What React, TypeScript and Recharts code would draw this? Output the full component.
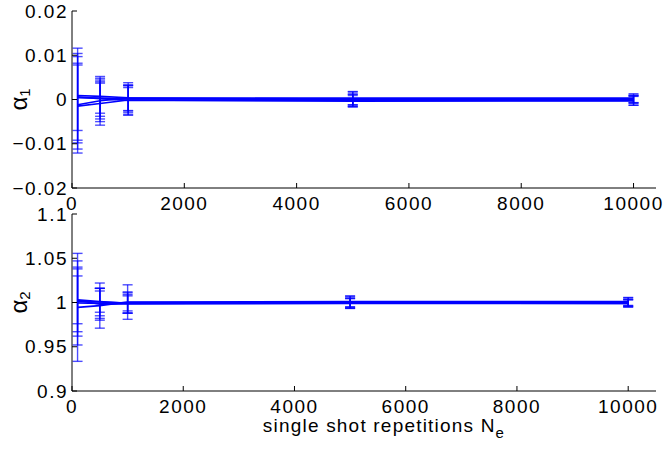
import { LineChart, Line, XAxis, YAxis, ErrorBar } from "recharts";

const repetitions = [100, 500, 1000, 5000, 10000];
const xTicks = [0, 2000, 4000, 6000, 8000, 10000];
const alpha1Ticks = [-0.02, -0.01, 0, 0.01, 0.02];
const alpha2Ticks = [0.9, 0.95, 1, 1.05, 1.1];

// five repeated runs: estimated means and error bar half widths per N_e
const alpha1Means = [
  [0.0009, 0.0007, 0.0004, 0.0003, 0.0003],
  [0.0006, 0.0002, -0.0002, -0.0002, -0.0002],
  [-0.0012, -0.0003, 0.0003, 0.0001, 0.0001],
  [-0.0015, -0.0009, -0.0001, -0.0004, -0.0003],
  [0.0004, 0.0003, 0.0001, 0.0, 0.0],
];
const alpha1Errors = [
  [0.0107, 0.0045, 0.0034, 0.0015, 0.001],
  [0.0098, 0.0046, 0.0033, 0.0014, 0.0011],
  [0.0109, 0.0047, 0.0029, 0.0016, 0.0009],
  [0.0097, 0.0049, 0.0034, 0.0013, 0.001],
  [0.0074, 0.0034, 0.0026, 0.0012, 0.0008],
];
const alpha2Means = [
  [0.9945, 0.9965, 1.0005, 1.0012, 1.0012],
  [0.9995, 0.999, 1.0, 0.9992, 0.999],
  [1.001, 1.0005, 0.9995, 1.0005, 1.0005],
  [1.0025, 0.998, 0.9985, 0.9988, 0.999],
  [1.003, 1.001, 0.999, 1.0, 1.0],
];
const alpha2Errors = [
  [0.061, 0.0255, 0.0195, 0.0062, 0.0045],
  [0.0475, 0.017, 0.012, 0.0058, 0.0042],
  [0.039, 0.0155, 0.0115, 0.0066, 0.0048],
  [0.0355, 0.018, 0.0105, 0.0055, 0.004],
  [0.027, 0.012, 0.0085, 0.005, 0.0038],
];

const FONT = '"Liberation Sans", Arial, Helvetica, sans-serif';
const BLUE = "#0000ff";
const W = 663;
const H = 449;

function buildRows(means: number[][], errors: number[][]) {
  return repetitions.map((n, i) => {
    const row: any = { n };
    means.forEach((m, s) => {
      row["m" + s] = m[i];
      row["e" + s] = errors[s][i];
    });
    return row;
  });
}

const fmtNum = (v: number) => {
  if (v === 0) return "0";
  const s = String(Math.abs(v));
  return v < 0 ? "\u2212" + s : s;
};

const XTick = (props: any) => {
  const { x, y, payload } = props;
  return (
    <text x={x} y={y} dy="0.71em" textAnchor="middle" fill="#000" fontSize={19} fontFamily={FONT} letterSpacing={1.5}>
      {String(payload.value)}
    </text>
  );
};

const YTick = (props: any) => {
  const { x, y, payload } = props;
  return (
    <text x={x} y={y} dy="0.355em" textAnchor="end" fill="#000" fontSize={19} fontFamily={FONT} letterSpacing={1.5}>
      {fmtNum(payload.value)}
    </text>
  );
};

interface PanelProps {
  rows: any[];
  plotTop: number;
  plotBottom: number;
  xDomain: number[];
  yDomain: number[];
  yTicks: number[];
  sub: string;
  xLabel?: boolean;
}

function Panel({ rows, plotTop, plotBottom, xDomain, yDomain, yTicks, sub, xLabel }: PanelProps) {
  const cy = (plotTop + plotBottom) / 2;
  return (
    <div style={{ position: "absolute", left: 0, top: 0 }}>
      <LineChart
        width={W}
        height={H}
        data={rows}
        margin={{ top: plotTop, right: 7, bottom: H - plotBottom - 30, left: 0 }}
      >
        <XAxis
          xAxisId="b"
          dataKey="n"
          type="number"
          domain={xDomain}
          ticks={xTicks}
          allowDataOverflow
          height={30}
          stroke="#000"
          tickSize={-5}
          tickMargin={14}
          tick={<XTick />}
          label={
            xLabel
              ? {
                  content: () => (
                    <text x={384} y={432} textAnchor="middle" fill="#000" fontSize={19} fontFamily={FONT} letterSpacing={1.2}>
                      single shot repetitions N
                      <tspan fontSize={15} dy={6}>e</tspan>
                    </text>
                  ),
                }
              : undefined
          }
        />
        <XAxis
          xAxisId="t"
          orientation="top"
          dataKey="n"
          type="number"
          domain={xDomain}
          ticks={xTicks}
          allowDataOverflow
          height={0}
          stroke="#000"
          tickSize={-5}
          tick={false}
        />
        <YAxis
          yAxisId="l"
          type="number"
          domain={yDomain}
          ticks={yTicks}
          allowDataOverflow
          width={72}
          stroke="#000"
          tickSize={-5}
          tickMargin={9}
          tick={<YTick />}
          label={{
            content: () => (
              <text
                x={27}
                y={cy}
                transform={`rotate(-90, 27, ${cy})`}
                textAnchor="middle"
                fill="#000"
                fontSize={24}
                fontFamily={FONT}
              >
                α<tspan fontSize={15} dy={3}>{sub}</tspan>
              </text>
            ),
          }}
        />
        <YAxis
          yAxisId="r"
          orientation="right"
          type="number"
          domain={yDomain}
          ticks={yTicks}
          allowDataOverflow
          width={0}
          stroke="#000"
          tickSize={-5}
          tick={false}
        />
        {[0, 1, 2, 3, 4].map((s) => (
          <Line
            key={s}
            xAxisId="b"
            yAxisId="l"
            dataKey={"m" + s}
            stroke={BLUE}
            strokeWidth={1.6}
            dot={false}
            isAnimationActive={false}
          >
            <ErrorBar
              dataKey={"e" + s}
              width={5}
              stroke={BLUE}
              strokeWidth={1.4}
              strokeOpacity={0.7}
              direction="y"
              isAnimationActive={false}
            />
          </Line>
        ))}
      </LineChart>
    </div>
  );
}

export default function App() {
  const rows1 = buildRows(alpha1Means, alpha1Errors);
  const rows2 = buildRows(alpha2Means, alpha2Errors);
  return (
    <div style={{ position: "absolute", left: 0, top: 0, width: W, height: H, background: "#fff" }}>
      <Panel
        rows={rows2}
        plotTop={214}
        plotBottom={391}
        xDomain={[0, 10500]}
        yDomain={[0.9, 1.1]}
        yTicks={alpha2Ticks}
        sub="2"
        xLabel
      />
      <Panel
        rows={rows1}
        plotTop={11}
        plotBottom={188}
        xDomain={[0, 10400]}
        yDomain={[-0.02, 0.02]}
        yTicks={alpha1Ticks}
        sub="1"
      />
    </div>
  );
}
